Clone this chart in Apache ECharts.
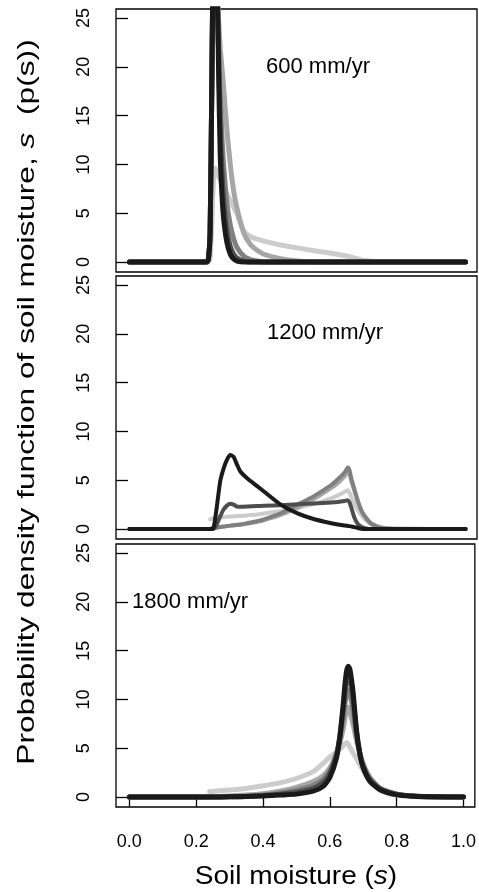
<!DOCTYPE html>
<html>
<head>
  <meta charset="utf-8">
  <title>Soil moisture pdf</title>
  <script src="https://cdn.jsdelivr.net/npm/echarts@6/dist/echarts.min.js"></script>
  <style>
    html, body { margin: 0; padding: 0; background: #fff; }
    #main { width: 479px; height: 892px; }
  </style>
</head>
<body>
  <div id="main"></div>
  <script type="text/javascript">
    // soil moisture values (x) for each panel
    var s600 = [0, 0.2, 0.23, 0.235, 0.24, 0.245, 0.25, 0.255, 0.26, 0.265, 0.27, 0.275, 0.28, 0.29, 0.30, 0.31, 0.32, 0.34, 0.36, 0.38, 0.40, 0.45, 0.50, 0.55, 0.60, 0.65, 0.70, 0.75, 1.0];
    var s1200 = [0, 0.2, 0.23, 0.24, 0.25, 0.26, 0.27, 0.28, 0.29, 0.30, 0.31, 0.32, 0.33, 0.35, 0.38, 0.40, 0.45, 0.50, 0.55, 0.60, 0.62, 0.64, 0.65, 0.655, 0.66, 0.67, 0.68, 0.69, 0.70, 0.72, 0.75, 0.80, 1.0];
    var s1800 = [0, 0.2, 0.24, 0.3, 0.35, 0.4, 0.45, 0.5, 0.55, 0.58, 0.6, 0.62, 0.63, 0.64, 0.645, 0.65, 0.655, 0.66, 0.665, 0.67, 0.68, 0.69, 0.70, 0.72, 0.75, 0.8, 0.85, 0.9, 1.0];

    // p(s), 600 mm/yr  (1 = lightest ... 5 = black)
    var p600_1 = [0, 0, 0, 0, 0.5, 4, 8.5, 9.6, 9.2, 8.8, 8.4, 8.1, 7.7, 7.0, 6.3, 5.6, 4.9, 3.2, 2.6, 2.35, 2.15, 1.75, 1.45, 1.15, 0.9, 0.6, 0.15, 0, 0];
    var p600_2 = [0, 0, 0, 0.3, 3, 18, 35, 40, 30, 25, 22, 20, 18, 13.5, 10, 7.3, 5.5, 3, 1.8, 1.2, 0.8, 0.35, 0.1, 0, 0, 0, 0, 0, 0];
    var p600_3 = [0, 0, 0, 0.3, 3, 18, 35, 40, 28, 22, 17, 13, 10, 6, 3.8, 2.4, 1.5, 0.6, 0.25, 0.1, 0, 0, 0, 0, 0, 0, 0, 0, 0];
    var p600_4 = [0, 0, 0, 0.3, 3, 18, 35, 42, 30, 22, 14, 9.5, 6.5, 3.2, 1.6, 0.8, 0.4, 0.1, 0, 0, 0, 0, 0, 0, 0, 0, 0, 0, 0];
    var p600_5 = [0, 0, 0, 0.3, 3, 18, 35, 45, 32, 20, 11, 7, 4.5, 2, 0.8, 0.3, 0.1, 0, 0, 0, 0, 0, 0, 0, 0, 0, 0, 0, 0];

    // p(s), 1200 mm/yr
    var p1200_1 = [null, null, null, 1.0, 1.15, 1.18, 1.2, 1.22, 1.25, 1.28, 1.3, 1.32, 1.34, 1.4, 1.5, 1.6, 1.85, 2.15, 2.6, 3.15, 3.45, 3.8, 4.0, 3.7, 3.3, 2.5, 1.9, 1.4, 1.0, 0.5, 0.15, 0.02, 0];
    var p1200_2 = [0, 0, 0, 0, 0.1, 0.15, 0.2, 0.25, 0.3, 0.35, 0.38, 0.42, 0.45, 0.55, 0.75, 0.9, 1.45, 2.2, 3.1, 4.2, 4.7, 5.4, 5.8, 5.6, 4.9, 3.8, 2.8, 1.9, 1.35, 0.6, 0.15, 0.02, 0];
    var p1200_3 = [0, 0, 0, 0, 0.1, 0.15, 0.2, 0.25, 0.3, 0.35, 0.4, 0.43, 0.47, 0.6, 0.8, 1.0, 1.6, 2.5, 3.4, 4.5, 5.1, 5.8, 6.3, 6.0, 5.2, 4.0, 2.8, 1.9, 1.3, 0.5, 0.12, 0.01, 0];
    var p1200_4 = [0, 0, 0, 0, 0, 0.5, 1.3, 2.0, 2.4, 2.6, 2.5, 2.3, 2.28, 2.3, 2.35, 2.38, 2.45, 2.55, 2.62, 2.72, 2.78, 2.88, 2.95, 2.7, 2.2, 1.1, 0.5, 0.25, 0.1, 0, 0, 0, 0];
    var p1200_5 = [0, 0, 0, 0, 0.1, 2.3, 4.9, 6.2, 7.1, 7.6, 7.4, 6.6, 5.9, 5.2, 4.4, 3.85, 2.5, 1.6, 1.0, 0.6, 0.47, 0.36, 0.32, 0.3, 0.27, 0.2, 0.1, 0.03, 0, 0, 0, 0, 0];

    // p(s), 1800 mm/yr
    var p1800_1 = [null, null, 0.55, 0.72, 0.88, 1.15, 1.45, 1.9, 2.6, 3.45, 4.1, 4.6, 4.9, 5.25, 5.45, 5.6, 5.45, 5.1, 4.8, 4.5, 3.9, 3.3, 2.7, 1.7, 0.7, 0.2, 0.05, 0.01, 0];
    var p1800_2 = [0, 0, 0.02, 0.1, 0.2, 0.35, 0.6, 1.0, 1.6, 2.2, 3.0, 4.4, 5.5, 7.0, 8.0, 8.9, 9.2, 8.8, 8.1, 7.4, 5.8, 4.4, 3.4, 2.0, 0.9, 0.3, 0.1, 0.03, 0];
    var p1800_3 = [0, 0, 0, 0.05, 0.1, 0.2, 0.4, 0.7, 1.2, 1.8, 2.7, 4.5, 6.0, 8.2, 9.5, 10.6, 11.0, 10.6, 9.8, 8.8, 6.3, 4.5, 3.3, 1.9, 0.9, 0.3, 0.1, 0.03, 0];
    var p1800_4 = [0, 0, 0, 0.02, 0.05, 0.15, 0.3, 0.5, 0.9, 1.5, 2.4, 4.3, 6.2, 9.0, 10.7, 11.9, 12.4, 12.1, 11.2, 10.0, 6.6, 4.4, 3.1, 1.8, 0.85, 0.3, 0.1, 0.04, 0];
    var p1800_5 = [0, 0, 0, 0.02, 0.05, 0.1, 0.2, 0.3, 0.6, 1.1, 2.0, 4.0, 6.2, 9.5, 11.5, 12.9, 13.4, 13.1, 12.0, 10.6, 6.8, 4.4, 3.0, 1.6, 0.75, 0.22, 0.08, 0.03, 0];

    var yTicks = [0, 5, 10, 15, 20, 25];
    var xTicks = [0, 0.2, 0.4, 0.6, 0.8, 1.0];
    var panelLabels = ['600 mm/yr', '1200 mm/yr', '1800 mm/yr'];

    var greys = ['#cccccc', '#a6a6a6', '#808080', '#4d4d4d', '#1a1a1a'];
    var font = '"Liberation Sans", Arial, Helvetica, sans-serif';

    var panels = [
      { s: s600, p: [p600_1, p600_2, p600_3, p600_4, p600_5], top: 9, width: 5 },
      { s: s1200, p: [p1200_1, p1200_2, p1200_3, p1200_4, p1200_5], top: 276, width: 4 },
      { s: s1800, p: [p1800_1, p1800_2, p1800_3, p1800_4, p1800_5], top: 544, width: 5 }
    ];

    var grids = [], xAxes = [], yAxes = [], series = [];
    panels.forEach(function (pan, i) {
      grids.push({
        left: 116, width: 361, top: pan.top, height: 263,
        show: true, borderColor: '#000', borderWidth: 1.3, backgroundColor: 'transparent'
      });
      var last = i === panels.length - 1;
      xAxes.push({
        type: 'value', gridIndex: i, min: -0.04, max: 1.034,
        axisLine: { show: false, onZero: false },
        splitLine: { show: false },
        axisTick: { show: last, inside: true, length: 10, customValues: xTicks, lineStyle: { color: '#000', width: 1.3 } },
        axisLabel: {
          show: last, customValues: xTicks, margin: 26,
          fontSize: 18, color: '#000', fontFamily: font,
          formatter: function (v) { return v.toFixed(1); }
        }
      });
      yAxes.push({
        type: 'value', gridIndex: i, min: -1.02, max: 25.93,
        axisLine: { show: false, onZero: false },
        splitLine: { show: false },
        axisTick: { show: true, inside: true, length: 12, customValues: yTicks, lineStyle: { color: '#000', width: 1.3 } },
        axisLabel: {
          customValues: yTicks, rotate: 90, margin: 23,
          fontSize: 18, color: '#000', fontFamily: font
        }
      });
      pan.p.forEach(function (vals, j) {
        series.push({
          name: panelLabels[i] + ' ' + (j + 1),
          type: 'line', xAxisIndex: i, yAxisIndex: i,
          showSymbol: false, smooth: 0.2, clip: true,
          data: pan.s.map(function (x, k) { return [x, vals[k]]; }),
          lineStyle: { color: greys[j], width: pan.width, cap: 'round', join: 'round' },
          emphasis: { disabled: true }
        });
      });
    });

    var myChart = echarts.init(document.getElementById('main'), null, { renderer: 'canvas' });
    myChart.setOption({
      animation: false,
      backgroundColor: '#fff',
      grid: grids,
      xAxis: xAxes,
      yAxis: yAxes,
      series: series,
      graphic: [
        { type: 'text', x: 318, y: 67, style: { text: panelLabels[0], font: '22px ' + font, fill: '#000', textAlign: 'center', textVerticalAlign: 'middle' } },
        { type: 'text', x: 325, y: 333, style: { text: panelLabels[1], font: '22px ' + font, fill: '#000', textAlign: 'center', textVerticalAlign: 'middle' } },
        { type: 'text', x: 132, y: 602, style: { text: panelLabels[2], font: '22px ' + font, fill: '#000', textAlign: 'left', textVerticalAlign: 'middle' } },
        {
          type: 'text', x: 296, y: 877, scaleX: 1.12,
          style: {
            text: '{n|Soil moisture (}{i|s}{n|)}',
            textAlign: 'center', textVerticalAlign: 'middle',
            rich: {
              n: { fontSize: 25, fontFamily: font, fill: '#000' },
              i: { fontSize: 25, fontFamily: font, fontStyle: 'italic', fill: '#000' }
            }
          }
        },
        {
          type: 'text', x: 27, y: 402, rotation: Math.PI / 2, scaleX: 1.32,
          style: {
            text: '{n|Probability density function of soil moisture, }{i|s}{n|  (p(s))}',
            textAlign: 'center', textVerticalAlign: 'middle',
            rich: {
              n: { fontSize: 24, fontFamily: font, fill: '#000' },
              i: { fontSize: 24, fontFamily: font, fontStyle: 'italic', fill: '#000' }
            }
          }
        }
      ]
    });
  </script>
</body>
</html>
